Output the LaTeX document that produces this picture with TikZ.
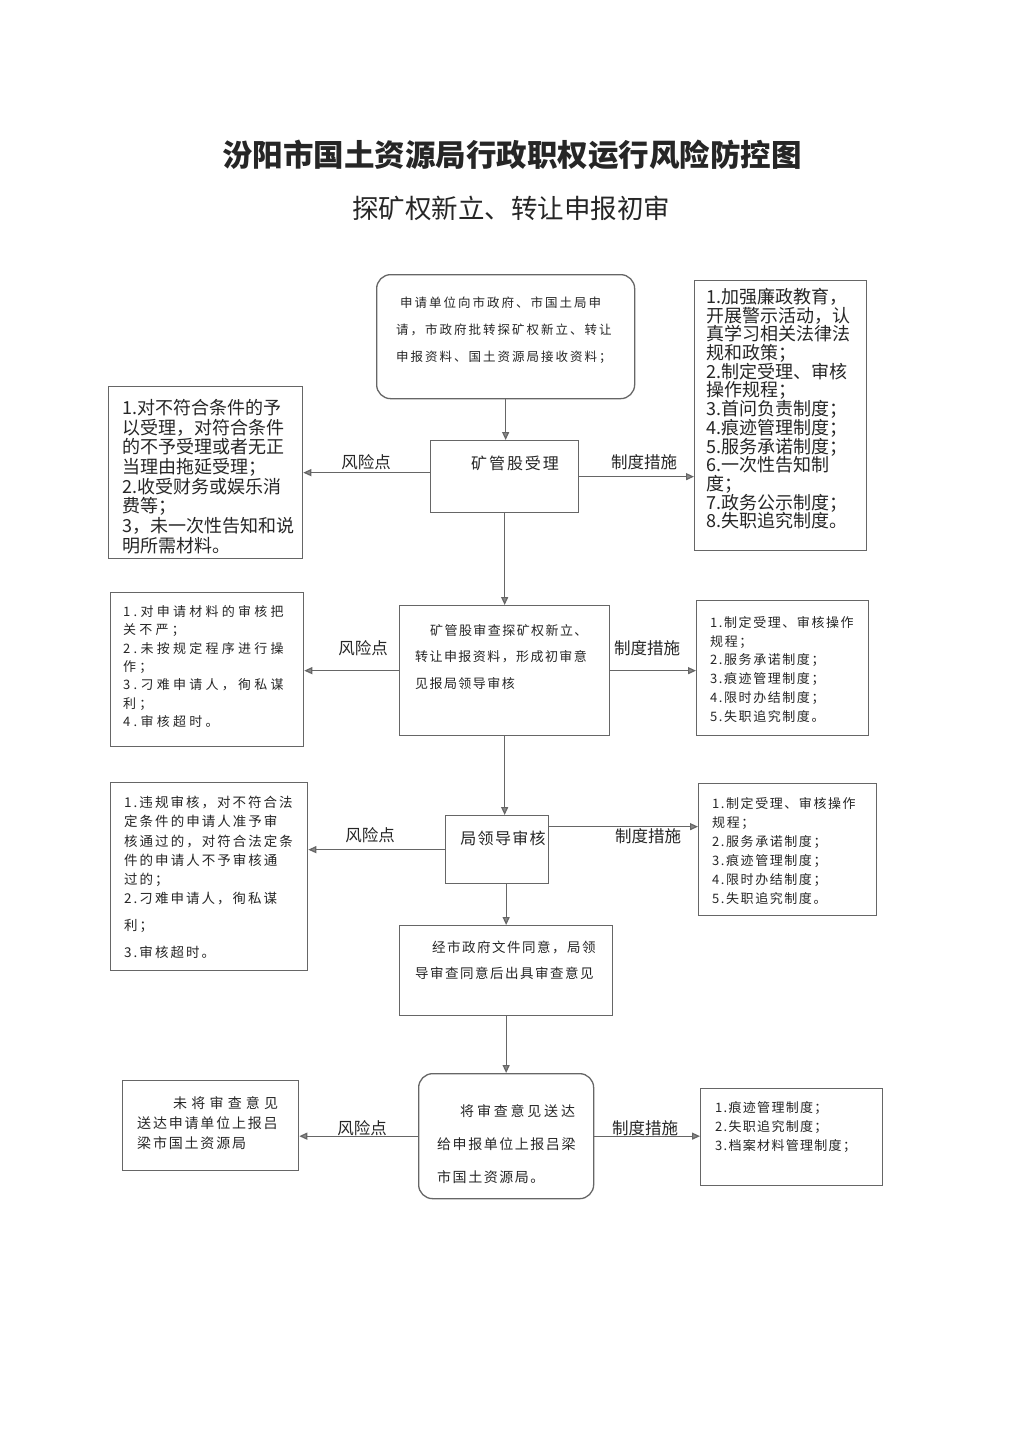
\documentclass[tikz,border=0pt]{standalone}
\usepackage{fontspec}
\setmainfont{Noto Sans CJK SC}
\usetikzlibrary{arrows.meta}
\newcommand\fsz[3]{\fontsize{#1}{#2}\selectfont\addfontfeatures{LetterSpace=#3}}
\begin{document}
\begin{tikzpicture}[x=1pt,y=-1pt,
  box/.style={draw=black!60, line width=1.3pt, inner sep=0pt, anchor=north west, fill=white},
  rbox/.style={box, rounded corners=14pt},
  txt/.style={anchor=north west, inner sep=0pt, align=left, text=black!85},
  lab/.style={inner sep=0pt, text=black!85, font=\fontsize{16.5}{18}\selectfont},
  arr/.style={draw=black!60, line width=1.2pt, -{Triangle[length=8pt,width=7pt,fill=black!45]}}]
\useasboundingbox[fill=white] (0,0) rectangle (1024,1448);

% titles
\node[inner sep=0pt, text=black!85, font=\fontsize{30.5}{32}\selectfont\bfseries] (title) at (512,155) {汾阳市国土资源局行政职权运行风险防控图};
\node[inner sep=0pt, text=black!85, font=\fontsize{26.5}{28}\selectfont] (subtitle) at (511,208) {探矿权新立、转让申报初审};

% boxes
\node[rbox, minimum width=258pt, minimum height=124pt] (t0) at (376,274) {};
\node[box, minimum width=148pt, minimum height=72pt] (b1) at (430,440) {};
\node[box, minimum width=194pt, minimum height=172pt] (l1) at (108,386) {};
\node[box, minimum width=172pt, minimum height=270pt] (r1) at (694,280) {};
\node[box, minimum width=210pt, minimum height=130pt] (b2) at (399,605) {};
\node[box, minimum width=193pt, minimum height=154pt] (l2) at (110,592) {};
\node[box, minimum width=172pt, minimum height=135pt] (r2) at (696,600) {};
\node[box, minimum width=103pt, minimum height=68pt] (b3) at (445,815) {};
\node[box, minimum width=197pt, minimum height=188pt] (l3) at (110,782) {};
\node[box, minimum width=178pt, minimum height=132pt] (r3) at (698,783) {};
\node[box, minimum width=213pt, minimum height=90pt] (b4) at (399,925) {};
\node[rbox, minimum width=175pt, minimum height=125pt] (b5) at (418,1073) {};
\node[box, minimum width=176pt, minimum height=90pt] (l4) at (122,1080) {};
\node[box, minimum width=182pt, minimum height=97pt] (r4) at (700,1088) {};

% texts
\node[txt, font=\fsz{12.5}{27}{16}] (t0t) at (396,297) {\hspace*{4pt}申请单位向市政府、市国土局申\\请，市政府批转探矿权新立、转让\\申报资料、国土资源局接收资料；};
\node[lab, font=\fsz{16}{18}{12}] (b1t) at (515,463) {矿管股受理};
\node[txt, font=\fsz{18}{19.7}{0}] (l1t) at (122,399) {1.对不符合条件的予\\以受理，对符合条件\\的不予受理或者无正\\当理由拖延受理；\\2.收受财务或娱乐消\\费等；\\3，未一次性告知和说\\明所需材料。};
\node[txt, font=\fsz{18}{18.7}{0}] (r1t) at (706,288) {1.加强廉政教育，\\开展警示活动，认\\真学习相关法律法\\规和政策；\\2.制定受理、审核\\操作规程；\\3.首问负责制度；\\4.痕迹管理制度；\\5.服务承诺制度；\\6.一次性告知制\\度；\\7.政务公示制度；\\8.失职追究制度。};
\node[txt, font=\fsz{13}{26.5}{11}] (b2t) at (415,624) {\hspace*{15pt}矿管股审查探矿权新立、\\转让申报资料，形成初审意\\见报局领导审核};
\node[txt, font=\fsz{13}{18.4}{25}] (l2t) at (123,605) {1.对申请材料的审核把\\关不严；\\2.未按规定程序进行操\\作；\\3.刁难申请人，徇私谋\\利；\\4.审核超时。};
\node[txt, font=\fsz{13}{18.8}{12}] (r2t) at (710,616) {1.制定受理、审核操作\\规程；\\2.服务承诺制度；\\3.痕迹管理制度；\\4.限时办结制度；\\5.失职追究制度。};
\node[lab, font=\fsz{16}{18}{8}] (b3t) at (503,838) {局领导审核};
\node[txt, font=\fsz{13.5}{19.2}{15}] (l3t) at (124,796) {1.违规审核，对不符合法\\定条件的申请人准予审\\核通过的，对符合法定条\\件的申请人不予审核通\\过的；\\2.刁难申请人，徇私谋\\[7.8pt]利；\\[7.8pt]3.审核超时。};
\node[txt, font=\fsz{13}{19}{12}] (r3t) at (712,797) {1.制定受理、审核操作\\规程；\\2.服务承诺制度；\\3.痕迹管理制度；\\4.限时办结制度；\\5.失职追究制度。};
\node[txt, font=\fsz{13.5}{26}{11}] (b4t) at (415,941) {\hspace*{17pt}经市政府文件同意，局领\\导审查同意后出具审查意见};
\node[txt, font=\fsz{14}{20}{13}] (l4t) at (137,1096) {\hspace*{36pt}{\addfontfeatures{LetterSpace=30}未将审查意见}\\送达申请单位上报吕\\梁市国土资源局};
\node[txt, font=\fsz{14}{33}{11}] (b5t) at (437,1104) {\hspace*{23pt}{\addfontfeatures{LetterSpace=20}将审查意见送达}\\给申报单位上报吕梁\\市国土资源局。};
\node[txt, font=\fsz{13}{19}{10}] (r4t) at (715,1101) {1.痕迹管理制度；\\2.失职追究制度；\\3.档案材料管理制度；};

% vertical flow
\draw[arr] (t0.south) -- (t0.south |- b1.north);
\draw[arr] (b1.south) -- (b1.south |- b2.north);
\draw[arr] (b2.south) -- (b2.south |- b3.north);
\draw[arr] (b3.south -| b4.north) -- (b4.north);
\draw[arr] (b4.south) -- (b4.south |- b5.north);

% side connectors
\coordinate (b1l) at ([yshift=4pt]b1.west);
\draw[arr] (b1l) -- (b1l -| l1.east);
\draw[arr] (b1.east) -- (b1.east -| r1.west);
\draw[arr] (b2.west) -- (b2.west -| l2.east);
\draw[arr] (b2.east) -- (b2.east -| r2.west);
\draw[arr] (b3.west) -- (b3.west -| l3.east);
\coordinate (b3r) at ([yshift=23pt]b3.east);
\draw[arr] (b3r) -- (b3r -| r3.west);
\draw[arr] (b5.west) -- (b5.west -| l4.east);
\draw[arr] (b5.east) -- (b5.east -| r4.west);

% labels
\node[lab] (k1) at (366,462) {风险点};
\node[lab] (m1) at (644,462) {制度措施};
\node[lab] (k2) at (363,648) {风险点};
\node[lab] (m2) at (647,648) {制度措施};
\node[lab] (k3) at (370,835) {风险点};
\node[lab] (m3) at (648,836) {制度措施};
\node[lab] (k4) at (362,1128) {风险点};
\node[lab] (m4) at (645,1128) {制度措施};
\end{tikzpicture}
\end{document}
